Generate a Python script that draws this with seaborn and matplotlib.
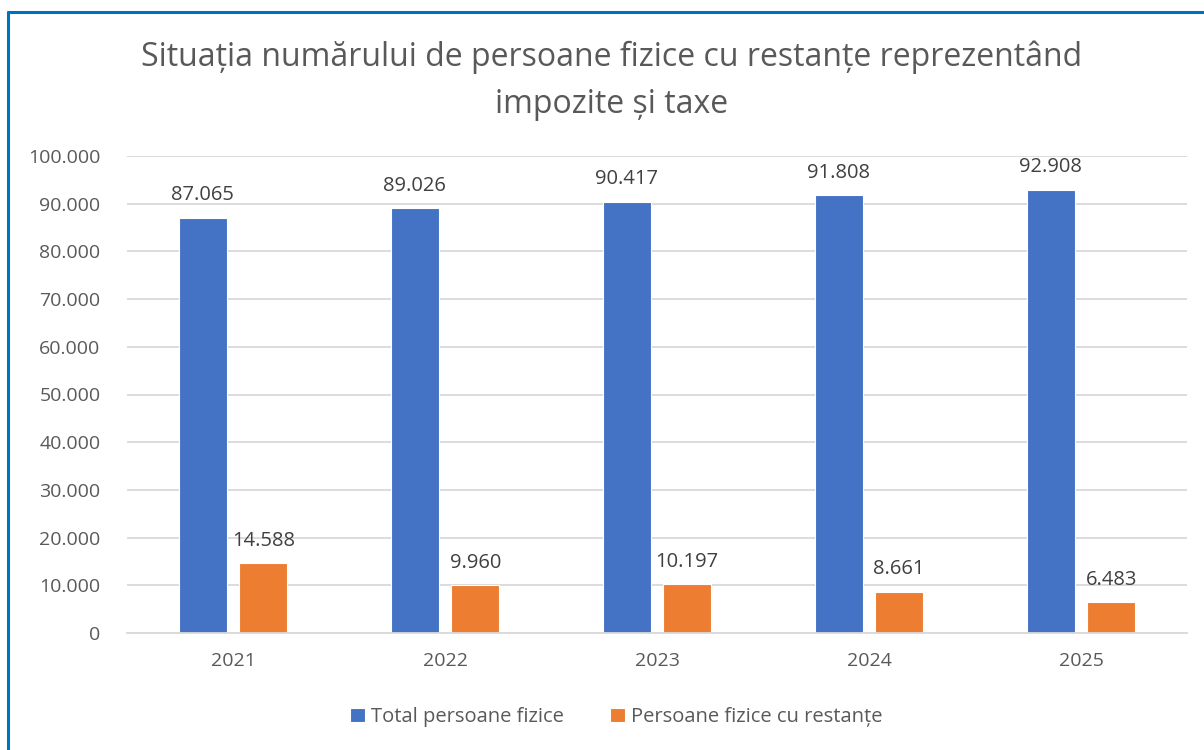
import matplotlib
matplotlib.use("Agg")
import matplotlib.pyplot as plt
import matplotlib.lines as mlines
import matplotlib.ticker as mticker
import seaborn as sns
import pandas as pd

years = ["2021", "2022", "2023", "2024", "2025"]
total = [87065, 89026, 90417, 91808, 92908]
restante = [14588, 9960, 10197, 8661, 6483]
series_names = ["Total persoane fizice", "Persoane fizice cu restanțe"]
colors = ["#4472C4", "#ED7D31"]
title = "Situația numărului de persoane fizice cu restanțe reprezentând\nimpozite și taxe"

df = pd.DataFrame({
    "An": years * 2,
    "Valoare": total + restante,
    "Serie": [series_names[0]] * len(years) + [series_names[1]] * len(years),
})

sns.set_style("white")
plt.rcParams["font.family"] = ["Open Sans", "DejaVu Sans"]
txt = "#595959"

fig = plt.figure(figsize=(12.04, 7.5), dpi=100)
ax = fig.add_axes([127 / 1204, 1 - 633 / 750, 1060 / 1204, (633 - 156) / 750])

sns.barplot(data=df, x="An", y="Valoare", hue="Serie", palette=colors,
            width=0.57, gap=0.21, ax=ax, edgecolor="white", linewidth=0.8,
            saturation=1)

def fmt(v):
    return f"{int(v):,}".replace(",", ".")

for cont in ax.containers:
    ax.bar_label(cont, labels=[fmt(v) for v in cont.datavalues], padding=9,
                 fontsize=14.5, color="#404040")

ax.set_ylim(0, 100000)
ax.set_xlim(-0.5, 4.5)
ax.yaxis.set_major_locator(mticker.MultipleLocator(10000))
ax.yaxis.set_major_formatter(mticker.FuncFormatter(lambda v, p: fmt(v)))
ax.grid(axis="y", color="#D9D9D9", linewidth=1.3)
ax.set_axisbelow(True)
for s in ["top", "right", "left"]:
    ax.spines[s].set_visible(False)
ax.spines["bottom"].set_color("#D9D9D9")
ax.spines["bottom"].set_linewidth(1.3)
ax.tick_params(axis="both", length=0, labelsize=14, colors=txt)
ax.tick_params(axis="y", pad=19)
ax.tick_params(axis="x", pad=14)
ax.set_xlabel("")
ax.set_ylabel("")

fig.text(612 / 1204, 1 - 81 / 750, title, ha="center", va="center", fontsize=23,
         color=txt, linespacing=1.55)

leg = fig.legend(*ax.get_legend_handles_labels(), loc="center",
                 bbox_to_anchor=(616 / 1204, 1 - 717 / 750),
                 ncol=2, frameon=False, fontsize=14.5, handlelength=0.75,
                 handleheight=0.75, handletextpad=0.3, columnspacing=2.3)
ax.get_legend().remove()
for t in leg.get_texts():
    t.set_color(txt)

fig.add_artist(mlines.Line2D([8 / 1204, 8 / 1204], [0, 1 - 12 / 750],
                             color="#0070C0", linewidth=2.2))
fig.add_artist(mlines.Line2D([8 / 1204, 1], [1 - 12 / 750, 1 - 12 / 750],
                             color="#0070C0", linewidth=2.2))

fig.savefig("out.png", dpi=100, facecolor="white")
